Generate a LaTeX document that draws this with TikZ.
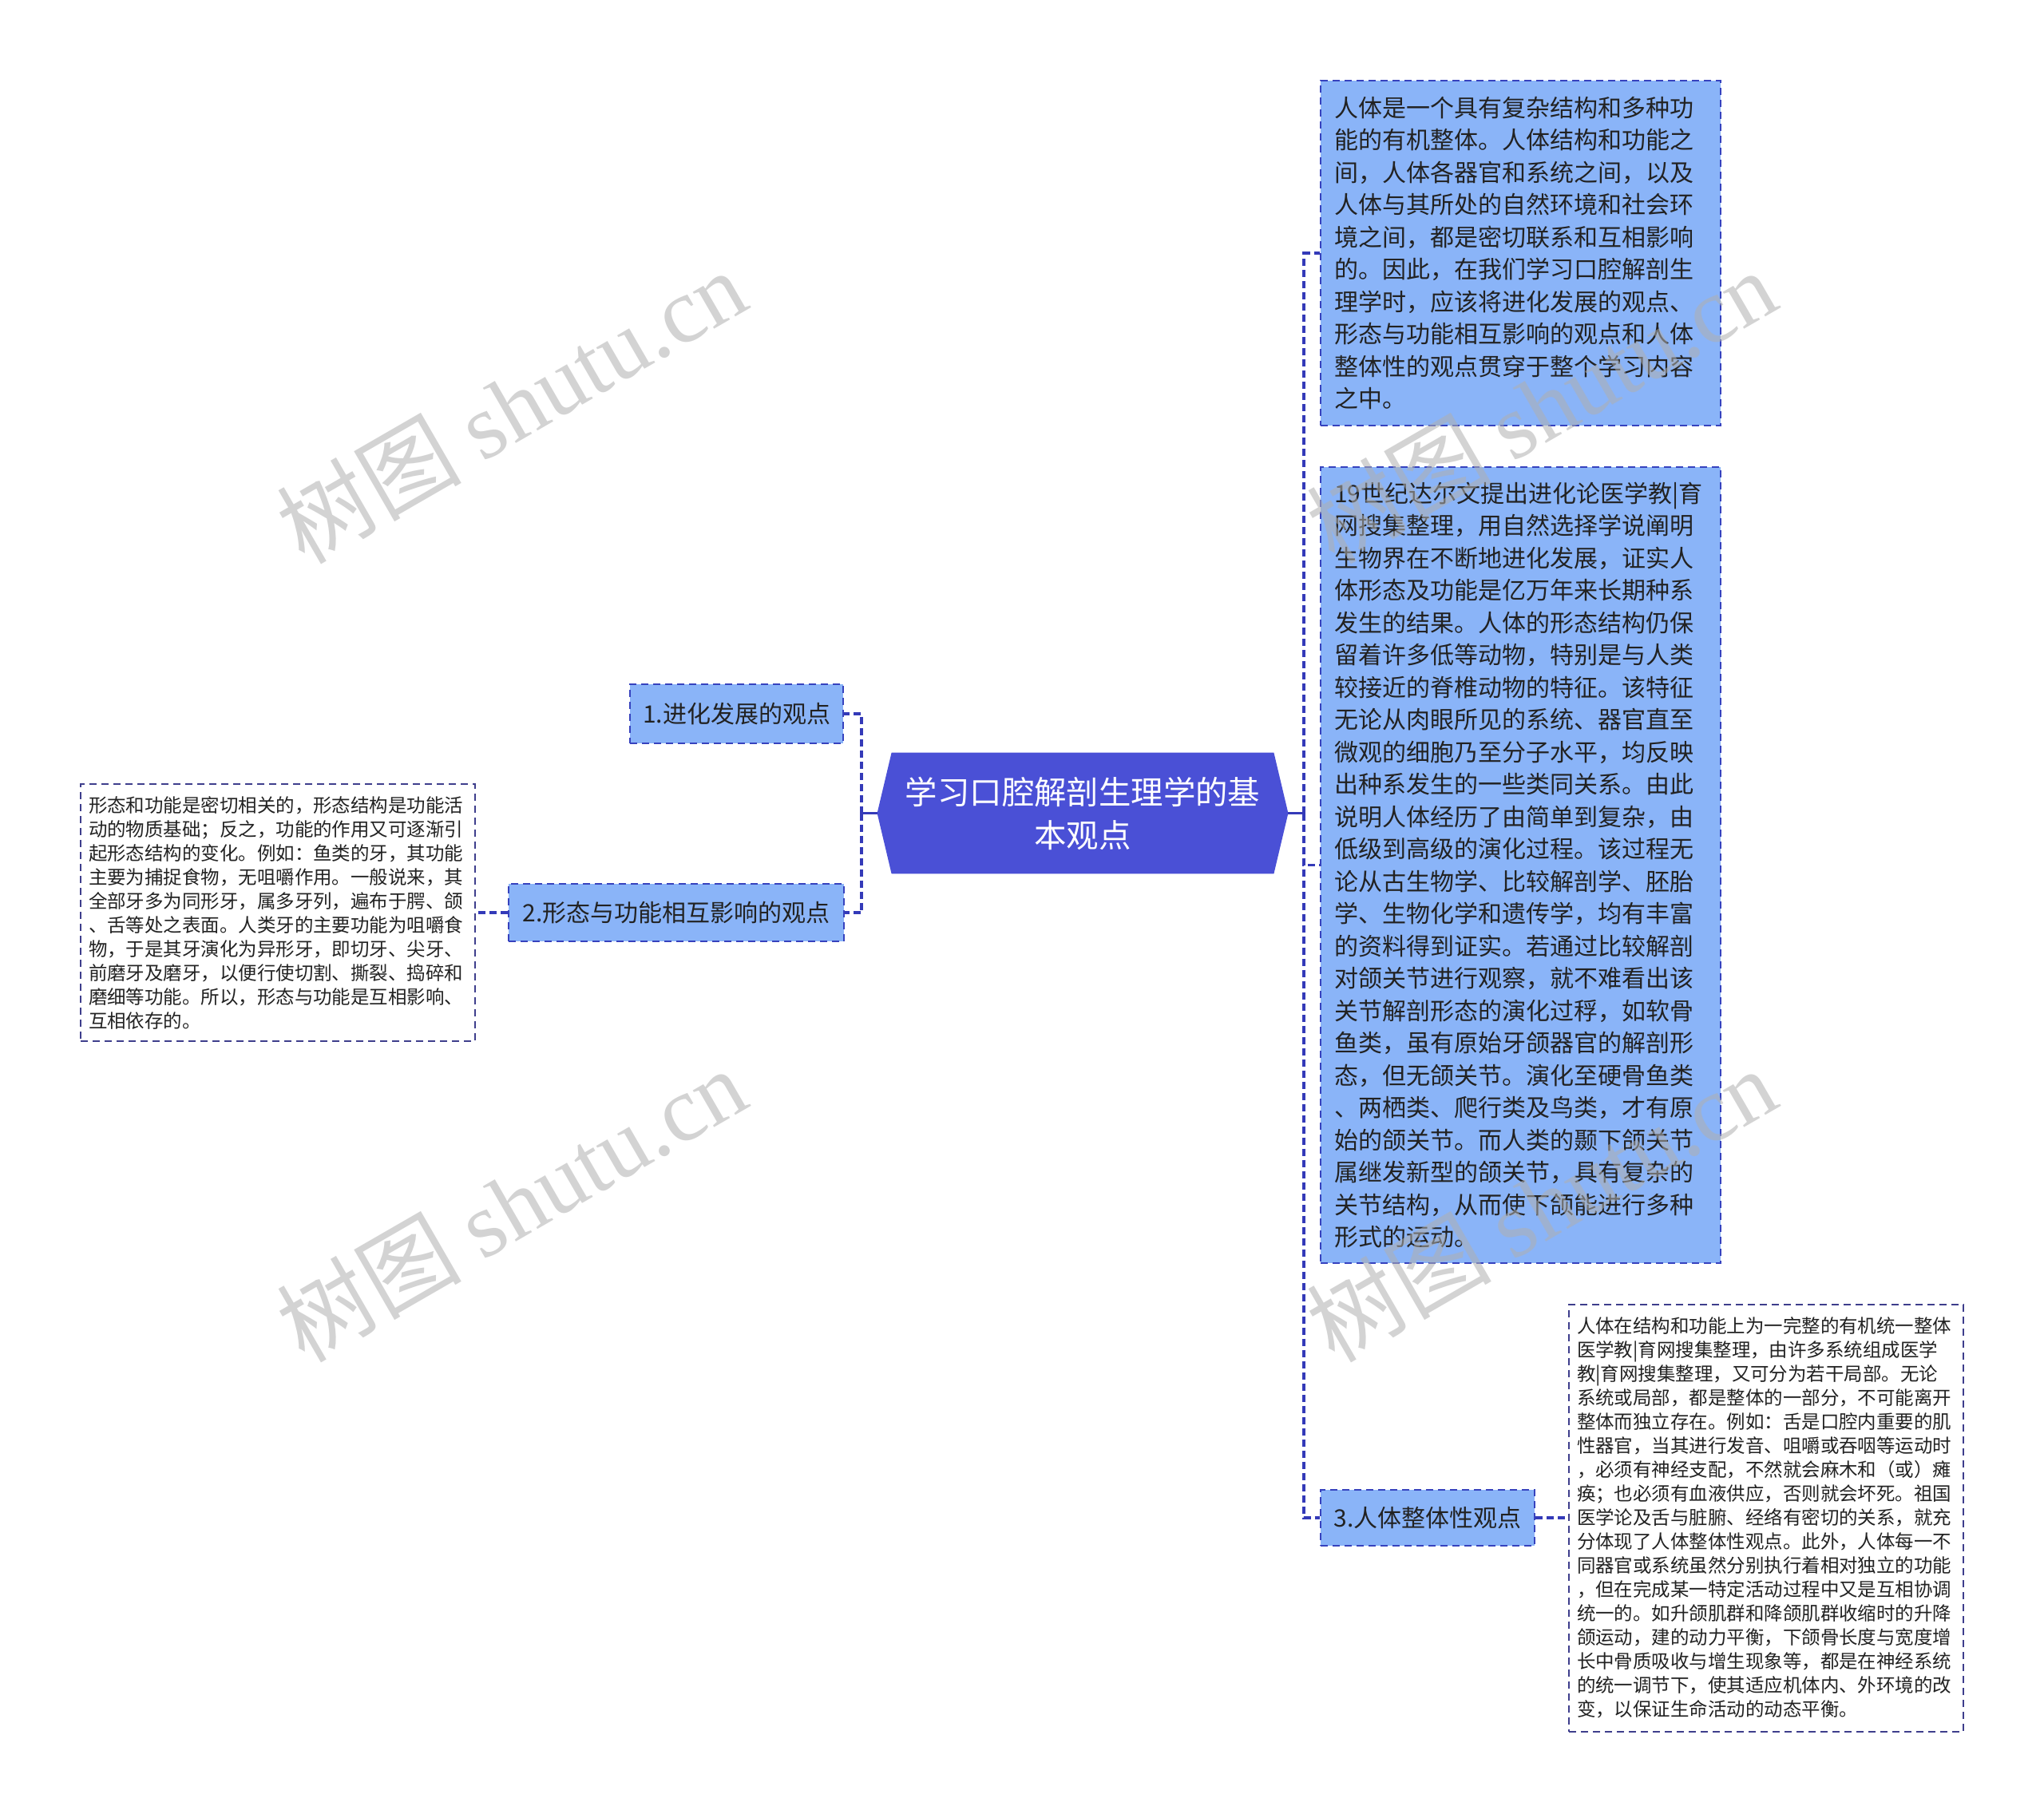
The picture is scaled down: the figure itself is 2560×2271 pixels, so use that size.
\documentclass[tikz,border=0pt]{standalone}
\usepackage{fontspec}
\setmainfont{Noto Sans CJK SC}
\newfontfamily\wmfont{Liberation Serif}
\usetikzlibrary{backgrounds}
\definecolor{topicblue}{RGB}{74,80,214}
\definecolor{boxblue}{RGB}{138,180,248}
\definecolor{rimblue}{RGB}{54,66,190}
\definecolor{linkblue}{RGB}{52,58,184}
\definecolor{leafrim}{RGB}{62,62,140}
\definecolor{inkgray}{RGB}{34,34,34}
\definecolor{wmgray}{RGB}{176,176,176}
\tikzset{
  topic/.style={minimum width=257pt, minimum height=75.5pt, inner sep=0pt, align=center, text=white, font=\fontsize{20.2}{27}\selectfont},
  branch/.style={draw=rimblue, line width=1pt, dash pattern=on 4.5pt off 3pt, fill=boxblue, text=inkgray, inner sep=0pt, font=\fontsize{15}{20.25}\selectfont},
  note/.style={branch, text width=233.5pt, inner xsep=8.5pt, align=left},
  leaf/.style={draw=leafrim, line width=1pt, dash pattern=on 4.5pt off 3pt, fill=white, text=inkgray, inner ysep=0pt, inner xsep=5pt, text width=237pt, align=left, font=\fontsize{11.73}{15}\selectfont},
  link/.style={draw=linkblue, line width=1.6pt, dash pattern=on 4.5pt off 2.5pt},
  stem/.style={draw=linkblue, line width=1.6pt},
  wmark/.style={rotate=30, text=wmgray, opacity=0.55, font=\fontsize{58}{62}\selectfont}
}
\begin{document}
\begin{tikzpicture}[x=0.5pt, y=-0.5pt]
\begin{scope}[on background layer]
\fill[white] (0,0) rectangle (2560,2271);
\end{scope}
\useasboundingbox (0,0) rectangle (2560,2271);
% root
\node[topic] (root) at (1356,1018.5) {学习口腔解剖生理学的基\\本观点};
\begin{scope}[on background layer]
\fill[topicblue] (root.west) -- ([xshift=9pt]root.north west) -- ([xshift=-9pt]root.north east) -- (root.east) -- ([xshift=-9pt]root.south east) -- ([xshift=9pt]root.south west) -- cycle;
\end{scope}
% left side
\node[branch, minimum width=133.5pt, minimum height=37pt] (evoview) at (922.5,894) {1.进化发展的观点};
\node[branch, minimum width=210pt, minimum height=36pt] (formview) at (847,1143) {2.形态与功能相互影响的观点};
\node[leaf, minimum height=161pt] (formnote) at (348,1143) {形态和功能是密切相关的，形态结构是功能活\\
动的物质基础；反之，功能的作用又可逐渐引\\
起形态结构的变化。例如：鱼类的牙，其功能\\
主要为捕捉食物，无咀嚼作用。一般说来，其\\
全部牙多为同形牙，属多牙列，遍布于腭、颌\\
、舌等处之表面。人类牙的主要功能为咀嚼食\\
物，于是其牙演化为异形牙，即切牙、尖牙、\\
前磨牙及磨牙，以便行使切割、撕裂、捣碎和\\
磨细等功能。所以，形态与功能是互相影响、\\
互相依存的。};
% right side
\node[note, minimum height=216pt] (intro) at (1904.5,317) {人体是一个具有复杂结构和多种功\\
能的有机整体。人体结构和功能之\\
间，人体各器官和系统之间，以及\\
人体与其所处的自然环境和社会环\\
境之间，都是密切联系和互相影响\\
的。因此，在我们学习口腔解剖生\\
理学时，应该将进化发展的观点、\\
形态与功能相互影响的观点和人体\\
整体性的观点贯穿于整个学习内容\\
之中。};
\node[note, minimum height=498.5pt] (evonote) at (1904.5,1083.5) {19世纪达尔文提出进化论医学教|育\\
网搜集整理，用自然选择学说阐明\\
生物界在不断地进化发展，证实人\\
体形态及功能是亿万年来长期种系\\
发生的结果。人体的形态结构仍保\\
留着许多低等动物，特别是与人类\\
较接近的脊椎动物的特征。该特征\\
无论从肉眼所见的系统、器官直至\\
微观的细胞乃至分子水平，均反映\\
出种系发生的一些类同关系。由此\\
说明人体经历了由简单到复杂，由\\
低级到高级的演化过程。该过程无\\
论从古生物学、比较解剖学、胚胎\\
学、生物化学和遗传学，均有丰富\\
的资料得到证实。若通过比较解剖\\
对颌关节进行观察，就不难看出该\\
关节解剖形态的演化过稃，如软骨\\
鱼类，虽有原始牙颌器官的解剖形\\
态，但无颌关节。演化至硬骨鱼类\\
、两栖类、爬行类及鸟类，才有原\\
始的颌关节。而人类的颞下颌关节\\
属继发新型的颌关节，具有复杂的\\
关节结构，从而使下颌能进行多种\\
形式的运动。};
\node[branch, minimum width=134pt, minimum height=35pt] (wholeview) at (1788,1901) {3.人体整体性观点};
\node[leaf, minimum height=267.5pt] (wholenote) at (2212,1901) {人体在结构和功能上为一完整的有机统一整体\\
医学教|育网搜集整理，由许多系统组成医学\\
教|育网搜集整理，又可分为若干局部。无论\\
系统或局部，都是整体的一部分，不可能离开\\
整体而独立存在。例如：舌是口腔内重要的肌\\
性器官，当其进行发音、咀嚼或吞咽等运动时\\
，必须有神经支配，不然就会麻木和（或）瘫\\
痪；也必须有血液供应，否则就会坏死。祖国\\
医学论及舌与脏腑、经络有密切的关系，就充\\
分体现了人体整体性观点。此外，人体每一不\\
同器官或系统虽然分别执行着相对独立的功能\\
，但在完成某一特定活动过程中又是互相协调\\
统一的。如升颌肌群和降颌肌群收缩时的升降\\
颌运动，建的动力平衡，下颌骨长度与宽度增\\
长中骨质吸收与增生现象等，都是在神经系统\\
的统一调节下，使其适应机体内、外环境的改\\
变，以保证生命活动的动态平衡。};
% connectors
\coordinate (lspine) at (1079,1018.5);
\coordinate (rspine) at (1633,1018.5);
\draw[stem] (root.west) -- (lspine);
\draw[link] (lspine) |- (evoview.east);
\draw[link] (lspine) |- (formview.east);
\draw[link] (formview.west) -- (formnote.east);
\draw[stem] (root.east) -- (rspine);
\draw[link] (rspine) |- (intro.west);
\draw[link] (rspine) |- (evonote.west);
\draw[link] (rspine) |- (wholeview.west);
\draw[link] (wholeview.east) -- (wholenote.west);
% watermarks
\node[wmark] (wm1) at (640,508) {树图 {\wmfont shutu.cn}};
\node[wmark] (wm2) at (1930,508) {树图 {\wmfont shutu.cn}};
\node[wmark] (wm3) at (640,1508) {树图 {\wmfont shutu.cn}};
\node[wmark] (wm4) at (1930,1508) {树图 {\wmfont shutu.cn}};
\end{tikzpicture}
\end{document}
